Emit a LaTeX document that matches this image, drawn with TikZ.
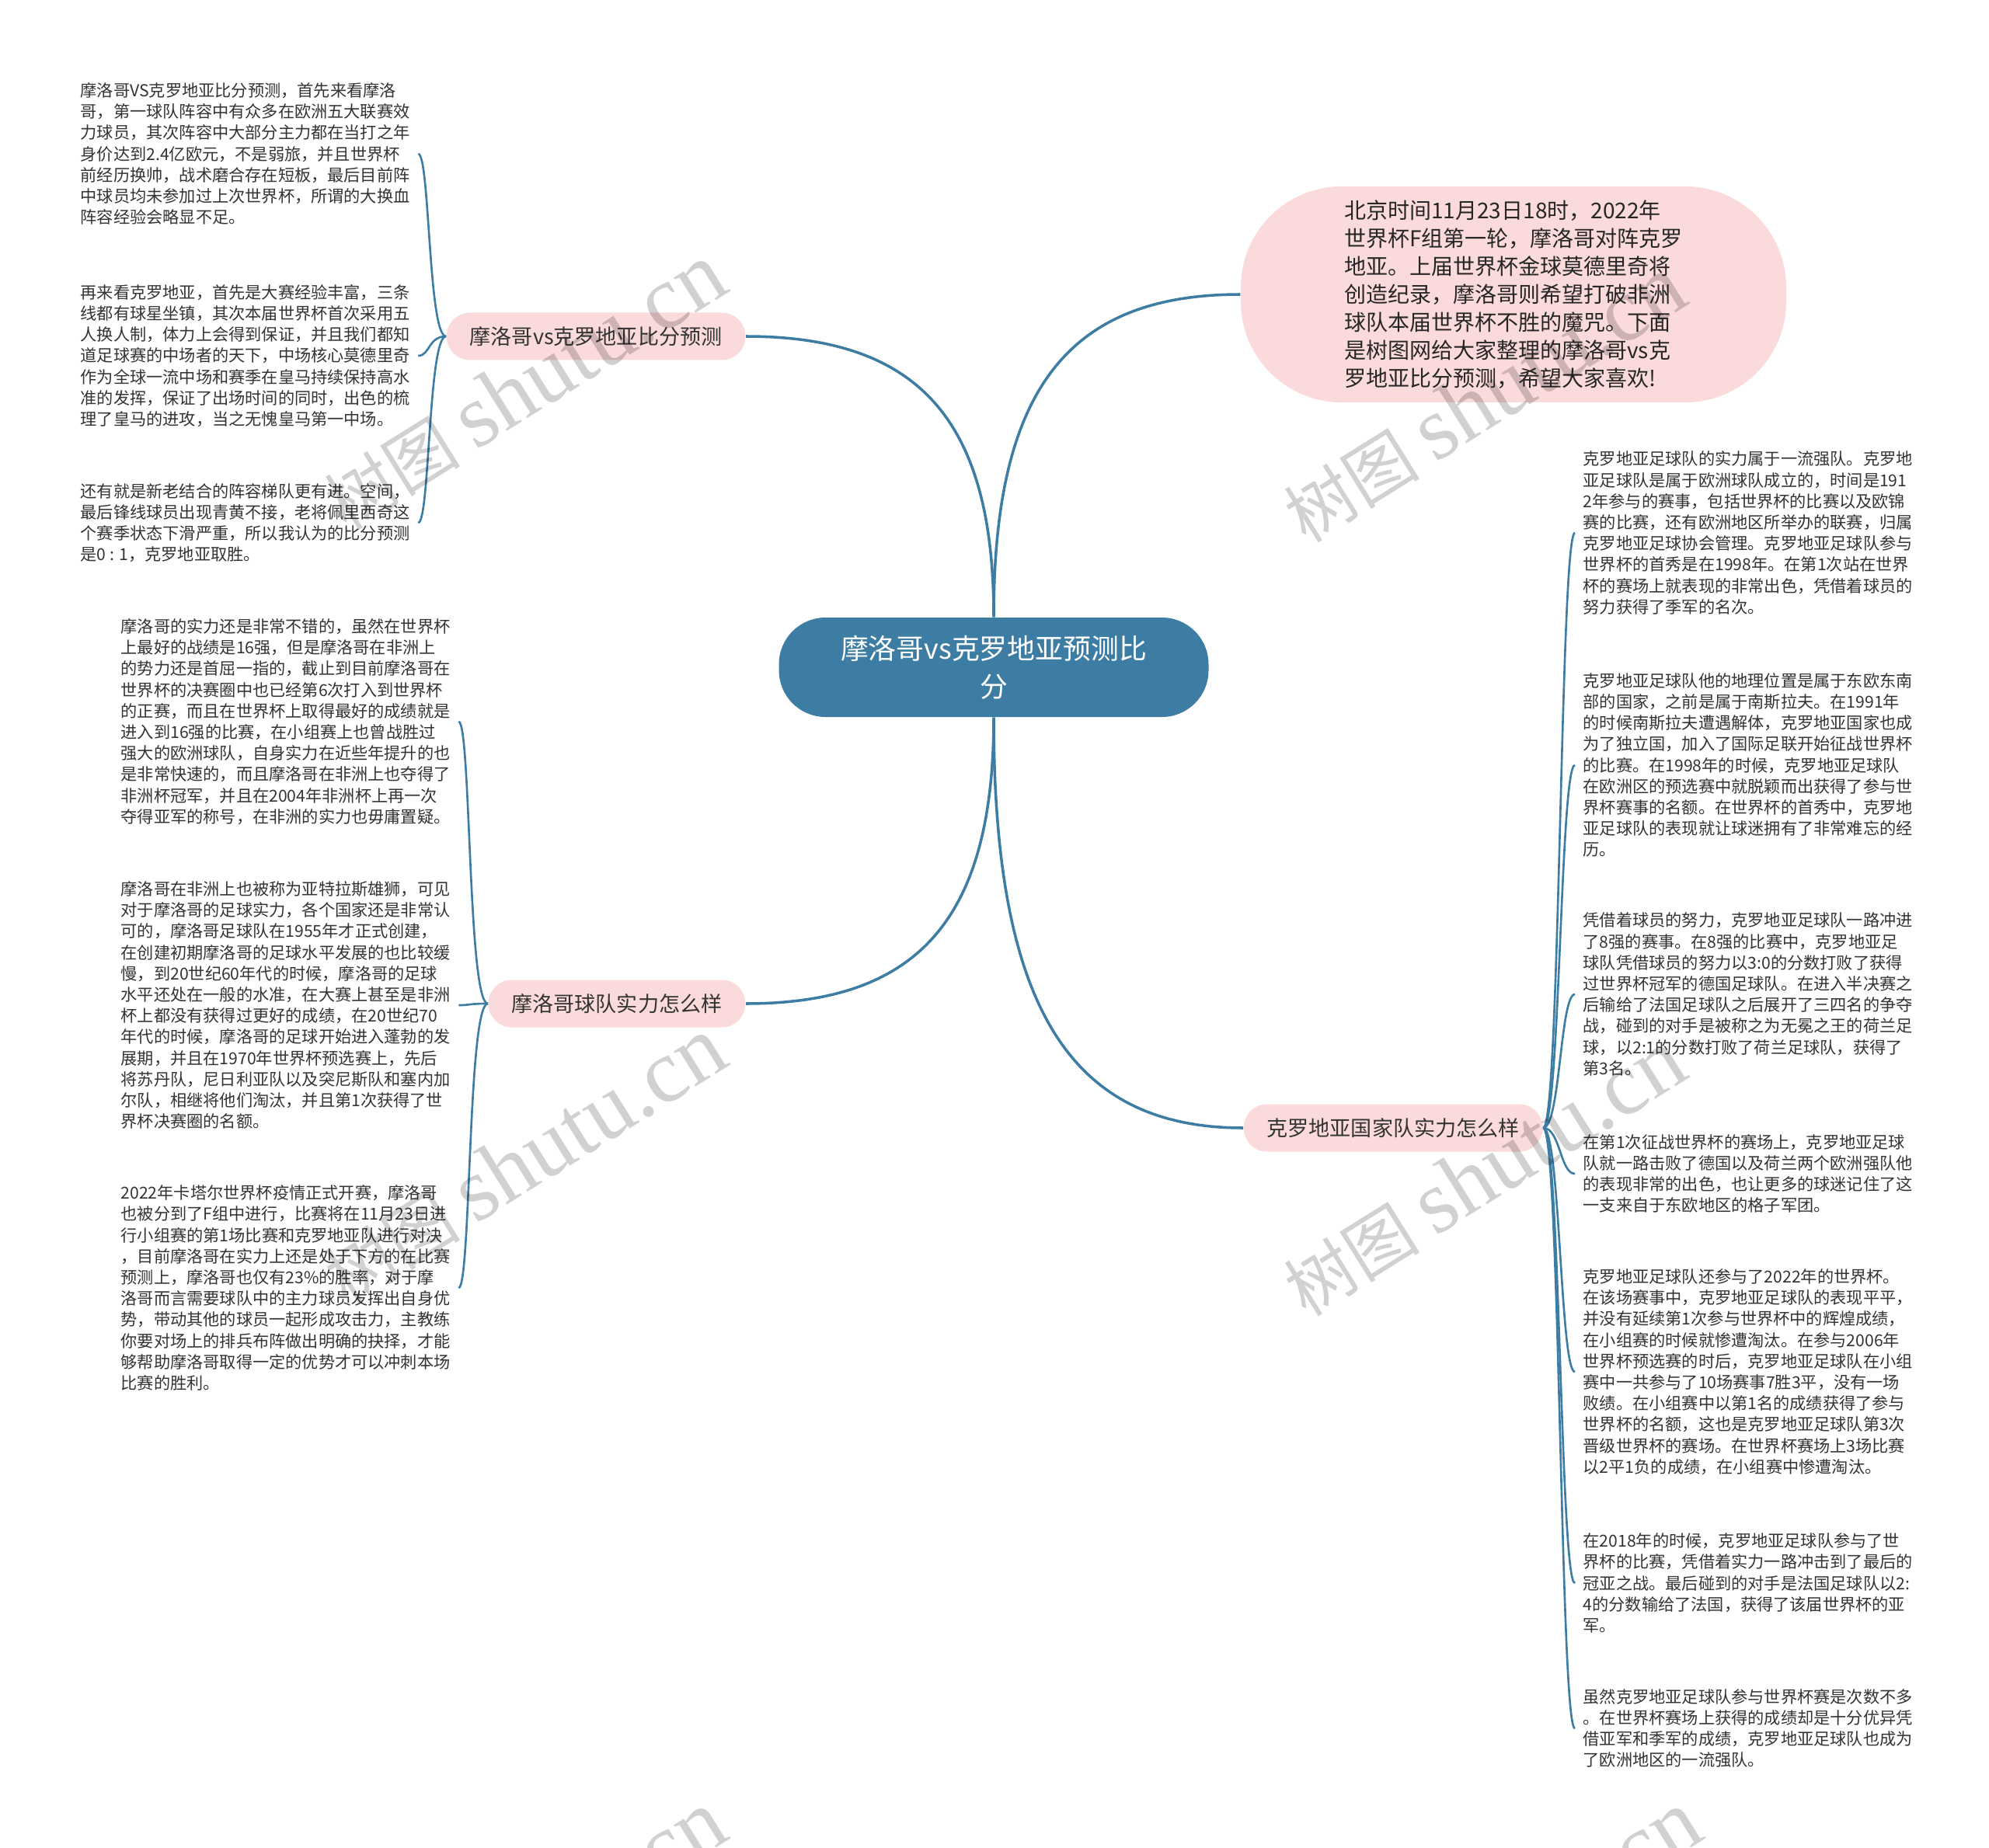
\documentclass[tikz,border=0pt]{standalone}
\usepackage{fontspec}
\setmainfont{Noto Sans CJK SC}
\newfontfamily\wmlatin{Liberation Serif}
\definecolor{hubblue}{RGB}{61,125,163}
\definecolor{topicpink}{RGB}{250,218,218}
\definecolor{leaftext}{RGB}{51,51,51}

\begin{document}
\begin{tikzpicture}[
    hub/.style={fill=hubblue, text=white, rounded corners=0.6cm, minimum width=5.53cm, minimum height=1.28cm, align=center, font={\fontsize{10.2pt}{13.9pt}\selectfont}},
    topic/.style={fill=topicpink, text=leaftext, rounded corners=0.3cm, minimum height=0.61cm, inner xsep=0.3cm, font={\fontsize{7.7pt}{9pt}\selectfont}},
    intro/.style={fill=topicpink, text=black!85, rounded corners=1.3cm, minimum width=7.02cm, minimum height=2.78cm, align=left, font={\fontsize{7.97pt}{10.24pt}\selectfont}},
    leaf/.style={text=leaftext, align=left, inner xsep=0.1cm, inner ysep=0pt, anchor=west, font={\fontsize{6.03pt}{7.74pt}\selectfont}},
    mainlink/.style={draw=hubblue, line width=1pt},
    leaflink/.style={draw=hubblue, line width=0.75pt},
    wm/.style={text=black, opacity=0.18, rotate=32, font={\fontsize{25pt}{25pt}\selectfont}}
]
    % Page
    \useasboundingbox (0,0) rectangle (25.60,-23.79);
    \fill[white] (0,0) rectangle (25.60,-23.79);

    % Central topic
    \node[hub] (hub) at (12.79,-8.59) {摩洛哥vs克罗地亚预测比\\分};

    % Intro bubble
    \node[intro] (intro) at (19.48,-3.79) {北京时间11月23日18时，2022年\\
        世界杯F组第一轮，摩洛哥对阵克罗\\
        地亚。上届世界杯金球莫德里奇将\\
        创造纪录，摩洛哥则希望打破非洲\\
        球队本届世界杯不胜的魔咒。下面\\
        是树图网给大家整理的摩洛哥vs克\\
        罗地亚比分预测，希望大家喜欢!};

    % Branches
    \node[topic, anchor=east] (b1) at (9.60,-4.33) {摩洛哥vs克罗地亚比分预测};
    \node[topic, anchor=east] (b2) at (9.60,-12.92) {摩洛哥球队实力怎么样};
    \node[topic, anchor=west] (b3) at (16.00,-14.52) {克罗地亚国家队实力怎么样};

    % Score prediction
    \node[leaf] (la1) at (0.93,-1.98) {摩洛哥VS克罗地亚比分预测，首先来看摩洛\\
        哥，第一球队阵容中有众多在欧洲五大联赛效\\
        力球员，其次阵容中大部分主力都在当打之年\\
        身价达到2.4亿欧元，不是弱旅，并且世界杯\\
        前经历换帅，战术磨合存在短板，最后目前阵\\
        中球员均未参加过上次世界杯，所谓的大换血\\
        阵容经验会略显不足。};
    \node[leaf] (la2) at (0.93,-4.58) {再来看克罗地亚，首先是大赛经验丰富，三条\\
        线都有球星坐镇，其次本届世界杯首次采用五\\
        人换人制，体力上会得到保证，并且我们都知\\
        道足球赛的中场者的天下，中场核心莫德里奇\\
        作为全球一流中场和赛季在皇马持续保持高水\\
        准的发挥，保证了出场时间的同时，出色的梳\\
        理了皇马的进攻，当之无愧皇马第一中场。};
    \node[leaf] (la3) at (0.93,-6.73) {还有就是新老结合的阵容梯队更有进。空间，\\
        最后锋线球员出现青黄不接，老将佩里西奇这\\
        个赛季状态下滑严重，所以我认为的比分预测\\
        是0 : 1，克罗地亚取胜。};

    % Morocco
    \node[leaf] (lb1) at (1.45,-9.29) {摩洛哥的实力还是非常不错的，虽然在世界杯\\
        上最好的战绩是16强，但是摩洛哥在非洲上\\
        的势力还是首屈一指的，截止到目前摩洛哥在\\
        世界杯的决赛圈中也已经第6次打入到世界杯\\
        的正赛，而且在世界杯上取得最好的成绩就是\\
        进入到16强的比赛，在小组赛上也曾战胜过\\
        强大的欧洲球队，自身实力在近些年提升的也\\
        是非常快速的，而且摩洛哥在非洲上也夺得了\\
        非洲杯冠军，并且在2004年非洲杯上再一次\\
        夺得亚军的称号，在非洲的实力也毋庸置疑。};
    \node[leaf] (lb2) at (1.45,-12.94) {摩洛哥在非洲上也被称为亚特拉斯雄狮，可见\\
        对于摩洛哥的足球实力，各个国家还是非常认\\
        可的，摩洛哥足球队在1955年才正式创建，\\
        在创建初期摩洛哥的足球水平发展的也比较缓\\
        慢，到20世纪60年代的时候，摩洛哥的足球\\
        水平还处在一般的水准，在大赛上甚至是非洲\\
        杯上都没有获得过更好的成绩，在20世纪70\\
        年代的时候，摩洛哥的足球开始进入蓬勃的发\\
        展期，并且在1970年世界杯预选赛上，先后\\
        将苏丹队，尼日利亚队以及突尼斯队和塞内加\\
        尔队，相继将他们淘汰，并且第1次获得了世\\
        界杯决赛圈的名额。};
    \node[leaf] (lb3) at (1.45,-16.58) {2022年卡塔尔世界杯疫情正式开赛，摩洛哥\\
        也被分到了F组中进行，比赛将在11月23日进\\
        行小组赛的第1场比赛和克罗地亚队进行对决\\
        ，目前摩洛哥在实力上还是处于下方的在比赛\\
        预测上，摩洛哥也仅有23\%的胜率，对于摩\\
        洛哥而言需要球队中的主力球员发挥出自身优\\
        势，带动其他的球员一起形成攻击力，主教练\\
        你要对场上的排兵布阵做出明确的抉择，才能\\
        够帮助摩洛哥取得一定的优势才可以冲刺本场\\
        比赛的胜利。};

    % Croatia
    \node[leaf] (lc1) at (20.27,-6.86) {克罗地亚足球队的实力属于一流强队。克罗地\\
        亚足球队是属于欧洲球队成立的，时间是191\\
        2年参与的赛事，包括世界杯的比赛以及欧锦\\
        赛的比赛，还有欧洲地区所举办的联赛，归属\\
        克罗地亚足球协会管理。克罗地亚足球队参与\\
        世界杯的首秀是在1998年。在第1次站在世界\\
        杯的赛场上就表现的非常出色，凭借着球员的\\
        努力获得了季军的名次。};
    \node[leaf] (lc2) at (20.27,-9.85) {克罗地亚足球队他的地理位置是属于东欧东南\\
        部的国家，之前是属于南斯拉夫。在1991年\\
        的时候南斯拉夫遭遇解体，克罗地亚国家也成\\
        为了独立国，加入了国际足联开始征战世界杯\\
        的比赛。在1998年的时候，克罗地亚足球队\\
        在欧洲区的预选赛中就脱颖而出获得了参与世\\
        界杯赛事的名额。在世界杯的首秀中，克罗地\\
        亚足球队的表现就让球迷拥有了非常难忘的经\\
        历。};
    \node[leaf] (lc3) at (20.27,-12.80) {凭借着球员的努力，克罗地亚足球队一路冲进\\
        了8强的赛事。在8强的比赛中，克罗地亚足\\
        球队凭借球员的努力以3:0的分数打败了获得\\
        过世界杯冠军的德国足球队。在进入半决赛之\\
        后输给了法国足球队之后展开了三四名的争夺\\
        战，碰到的对手是被称之为无冕之王的荷兰足\\
        球，以2:1的分数打败了荷兰足球队，获得了\\
        第3名。};
    \node[leaf] (lc4) at (20.27,-15.11) {在第1次征战世界杯的赛场上，克罗地亚足球\\
        队就一路击败了德国以及荷兰两个欧洲强队他\\
        的表现非常的出色，也让更多的球迷记住了这\\
        一支来自于东欧地区的格子军团。};
    \node[leaf] (lc5) at (20.27,-17.66) {克罗地亚足球队还参与了2022年的世界杯。\\
        在该场赛事中，克罗地亚足球队的表现平平，\\
        并没有延续第1次参与世界杯中的辉煌成绩，\\
        在小组赛的时候就惨遭淘汰。在参与2006年\\
        世界杯预选赛的时后，克罗地亚足球队在小组\\
        赛中一共参与了10场赛事7胜3平，没有一场\\
        败绩。在小组赛中以第1名的成绩获得了参与\\
        世界杯的名额，这也是克罗地亚足球队第3次\\
        晋级世界杯的赛场。在世界杯赛场上3场比赛\\
        以2平1负的成绩，在小组赛中惨遭淘汰。};
    \node[leaf] (lc6) at (20.27,-20.38) {在2018年的时候，克罗地亚足球队参与了世\\
        界杯的比赛，凭借着实力一路冲击到了最后的\\
        冠亚之战。最后碰到的对手是法国足球队以2:\\
        4的分数输给了法国，获得了该届世界杯的亚\\
        军。};
    \node[leaf] (lc7) at (20.27,-22.25) {虽然克罗地亚足球队参与世界杯赛是次数不多\\
        。在世界杯赛场上获得的成绩却是十分优异凭\\
        借亚军和季军的成绩，克罗地亚足球队也成为\\
        了欧洲地区的一流强队。};

    % Main curves
    \draw[mainlink] (hub.north) .. controls +(0,2.53) and +(2.23,0) .. (b1.east);
    \draw[mainlink] (hub.north) .. controls +(0,2.91) and +(-2.23,0) .. (intro.west);
    \draw[mainlink] (hub.south) .. controls +(0,-2.58) and +(2.23,0) .. (b2.east);
    \draw[mainlink] (hub.south) .. controls +(0,-3.70) and +(-2.25,0) .. (b3.west);

    % Leaf curves
    \foreach \l in {la1,la2,la3}
        \draw[leaflink] (b1.west) .. controls +(-0.23,0) and +(0.15,0) .. (\l.east);
    \foreach \l in {lb1,lb2,lb3}
        \draw[leaflink] (b2.west) .. controls +(-0.26,0) and +(0.16,0) .. (\l.east);
    \foreach \l in {lc1,lc2,lc3,lc4,lc5,lc6,lc7}
        \draw[leaflink] (b3.east) .. controls +(0.22,0) and +(-0.19,0) .. (\l.west);

    % Watermarks
    \foreach \wx/\wy [count=\i] in {6.75/-4.98, 6.75/-14.94, 6.75/-24.90, 19.10/-5.14, 19.10/-15.10, 19.30/-24.90}
        \node[wm] (wm\i) at (\wx,\wy) {树图 {\wmlatin\fontsize{33pt}{33pt}\selectfont shutu.cn}};

\end{tikzpicture}
\end{document}
